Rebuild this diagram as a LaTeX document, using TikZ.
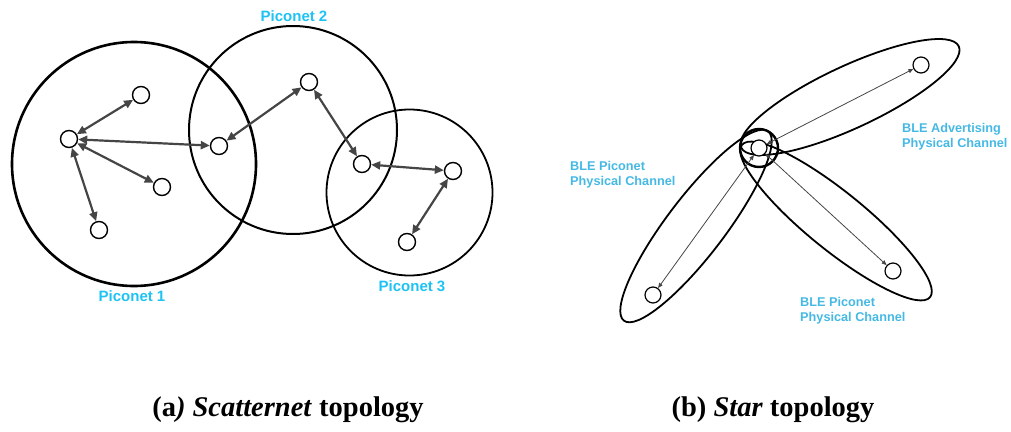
\documentclass[tikz,border=0pt]{standalone}
\usepackage{fontspec}
\setmainfont{Liberation Serif}
\setsansfont{Liberation Sans}
\usetikzlibrary{arrows.meta}
\definecolor{piconetcyan}{HTML}{1EC3F4}
\definecolor{blecyan}{HTML}{45B9E4}
\definecolor{linkgray}{HTML}{454545}
\tikzset{
  device/.style={
    circle,
    draw=black,
    line width=1.4pt,
    fill=white,
    minimum size=17pt,
    inner sep=0pt
  },
  netrange/.style={draw=black, line width=2pt},
  channel/.style={draw=black, line width=1.8pt},
  link/.style={
    {Triangle[length=9pt,width=8pt]}-{Triangle[length=9pt,width=8pt]},
    draw=linkgray,
    line width=2.2pt
  },
  blelink/.style={
    {Triangle[length=5pt,width=4pt]}-{Triangle[length=5pt,width=4pt]},
    draw=linkgray,
    line width=0.8pt
  },
  netlabel/.style={
    font=\sffamily\bfseries\fontsize{15}{18}\selectfont,
    text=piconetcyan,
    inner sep=0pt
  },
  blelabel/.style={
    font=\sffamily\bfseries\fontsize{12.7}{15}\selectfont,
    text=blecyan,
    align=left,
    inner sep=0pt,
    anchor=north west
  },
  figcaption/.style={
    font=\bfseries\fontsize{28.5}{32}\selectfont,
    inner sep=0pt
  }
}

\begin{document}
\begin{tikzpicture}[x=1pt, y=-1pt]
\useasboundingbox (0,0) rectangle (1011,431);

% (a) Scatternet: piconet ranges.
\draw[netrange, line width=2.6pt] (134,164) circle [radius=122];
\draw[netrange] (293,130) circle [radius=104];
\draw[netrange, line width=1.8pt] (409.5,192.5) circle [radius=83];

% Piconet 1 devices.
\node[device] (m1) at (69,139) {};
\node[device] (s1a) at (141,95) {};
\node[device] (s1b) at (162,187) {};
\node[device] (s1c) at (99,230) {};
% Bridges and the other piconets.
\node[device] (b12) at (219,146) {};
\node[device] (s2a) at (309,82) {};
\node[device] (b23) at (362,164) {};
\node[device] (s3a) at (453,171) {};
\node[device] (s3b) at (407,242) {};

\draw[link] (m1) -- (s1a);
\draw[link] (m1) -- (s1b);
\draw[link] (m1) -- (s1c);
\draw[link] (m1) -- (b12);
\draw[link] (b12) -- (s2a);
\draw[link] (s2a) -- (b23);
\draw[link] (b23) -- (s3a);
\draw[link] (s3a) -- (s3b);

\node[netlabel] (net1) at (132,296) {Piconet 1};
\node[netlabel] (net2) at (294,16) {Piconet 2};
\node[netlabel] (net3) at (412,286) {Piconet 3};

% (b) Star: physical channels around the hub.
\draw[channel, rotate around={25:(850,97)}] (850,97) ellipse [x radius=120, y radius=31];
\draw[channel, rotate around={52.7:(696,226)}] (696,226) ellipse [x radius=119, y radius=29];
\draw[channel, rotate around={-39:(836,221)}] (836,221) ellipse [x radius=121, y radius=29];

\node[circle, draw=black, line width=2.4pt, minimum size=38pt] (hubring) at (759,148) {};
\node[device, minimum size=16pt, line width=1.2pt] (hub) at (759,148) {};
\node[device, minimum size=16pt, line width=1.2pt] (advnode) at (921,65) {};
\node[device, minimum size=16pt, line width=1.2pt] (leftnode) at (653,295) {};
\node[device, minimum size=16pt, line width=1.2pt] (rightnode) at (893,271) {};

\draw[blelink] (hub) -- (advnode);
\draw[blelink] (hub) -- (leftnode);
\draw[blelink] (hub) -- (rightnode);

\node[blelabel] (advlbl) at (902,123) {BLE Advertising\\Physical Channel};
\node[blelabel] (leftlbl) at (570,161) {BLE Piconet\\Physical Channel};
\node[blelabel] (rightlbl) at (800,297) {BLE Piconet\\Physical Channel};

% Sub-figure captions.
\node[figcaption] (capa) at (288,410) {(a\textit{) Scatternet} topology};
\node[figcaption] (capb) at (773,410) {(b) \textit{Star} topology};

\end{tikzpicture}
\end{document}
